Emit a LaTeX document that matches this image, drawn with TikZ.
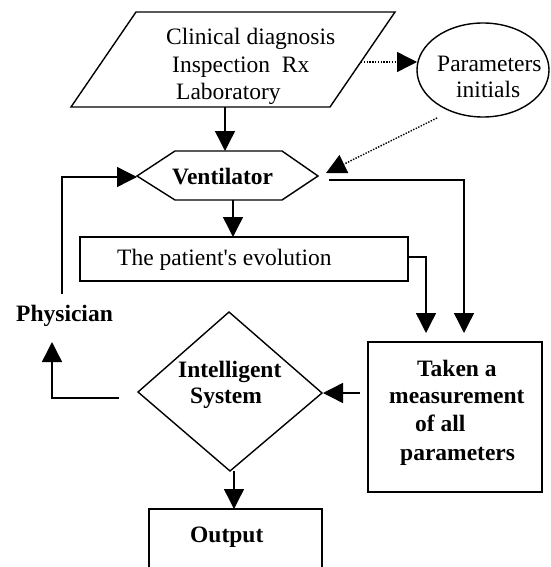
\documentclass[tikz,border=0pt]{standalone}
\usepackage{fontspec}
\setmainfont{Liberation Serif}
\newfontfamily\rawserif{Liberation Serif}
\usetikzlibrary{arrows.meta}
\begin{document}
\begin{tikzpicture}[x=1pt,y=-1pt,
  ln/.style={line width=1.4pt},
  arr/.style={ln,-{Triangle[length=20pt,width=20pt]}},
  dotarr/.style={line width=1.4pt,dash pattern=on 1.4pt off 1.4pt,-{Triangle[length=20pt,width=20pt]}},
  txt/.style={anchor=base west,inner sep=0pt,font=\rawserif\fontsize{23.5}{28}\selectfont},
  btxt/.style={anchor=base west,inner sep=0pt,font=\rawserif\fontsize{23.5}{28}\selectfont\bfseries}]
\useasboundingbox (0,0) rectangle (550,567);
\clip (0,0) rectangle (550,567);

% ---- shapes ----
% parallelogram (input)
\draw[ln] (71,107) -- (330,107) -- (395,12) -- (136,12) -- cycle;
\node[txt] (t1) at (166,45) {Clinical diagnosis};
\node[txt] (t2) at (172,73) {Inspection\ \ Rx};
\node[txt] (t3) at (176,100) {Laboratory};
% ellipse
\draw[ln] (483,70) ellipse [x radius=66, y radius=47];
\node[txt] (p1) at (437,72) {Parameters};
\node[txt] (p2) at (456,98) {initials};
% hexagon
\draw[ln] (137,176) -- (175,151) -- (282,151) -- (318,176) -- (282,200) -- (175,200) -- cycle;
\node[btxt] (vent) at (172,184) {Ventilator};
% patient box
\draw[ln] (80,237) rectangle (408,281);
\node[txt] (pat) at (117,265) {The patient's evolution};
% physician
\node[btxt] (phys) at (16,321) {Physician};
% diamond
\draw[ln] (138,392) -- (229,312) -- (322,393) -- (230,471) -- cycle;
\node[btxt] (is1) at (178,377) {Intelligent};
\node[btxt] (is2) at (190,403) {System};
% measurement box
\draw[ln] (368,342) rectangle (542,492);
\node[btxt] (m1) at (417,376) {Taken a};
\node[btxt] (m2) at (389,403) {measurement};
\node[btxt] (m3) at (415,431) {of all};
\node[btxt] (m4) at (400,460) {parameters};
% output box (cut by bottom edge)
\draw[ln] (149,580) -- (149,509) -- (322,509) -- (322,580);
\node[btxt] (out) at (190,542) {Output};

% ---- anchor coordinates ----
\coordinate (parB) at (225,107);
\coordinate (hexT) at (225,151);
\coordinate (parR) at (361,62);
\coordinate (ellL) at (417,62);
\coordinate (ellLL) at (437,118);
\coordinate (hexR) at (326,173);
\coordinate (hexB) at (233,200);
\coordinate (patT) at (233,237);
\coordinate (hexRo) at (329,180);
\coordinate (mInR) at (464,333);
\coordinate (patR) at (408,257);
\coordinate (mInL) at (426,333);
\coordinate (mL) at (360,393);
\coordinate (diaR) at (323,393);
\coordinate (diaL) at (119,398);
\coordinate (physB) at (52,342);
\coordinate (physT) at (62,294);
\coordinate (hexL) at (137,177);
\coordinate (diaB) at (234,471);
\coordinate (outT) at (234,509);

% ---- connectors ----
\draw[arr] (parB) -- (hexT);
\draw[dotarr] (parR) -- (ellL);
\draw[dotarr] (ellLL) -- (hexR);
\draw[arr] (hexB) -- (patT);
\draw[arr] (hexRo) -| (mInR);
\draw[arr] (patR) -| (mInL);
\draw[arr] (mL) -- (diaR);
\draw[arr] (diaL) -| (physB);
\draw[arr] (physT) |- (hexL);
\draw[arr] (diaB) -- (outT);
\end{tikzpicture}
\end{document}
